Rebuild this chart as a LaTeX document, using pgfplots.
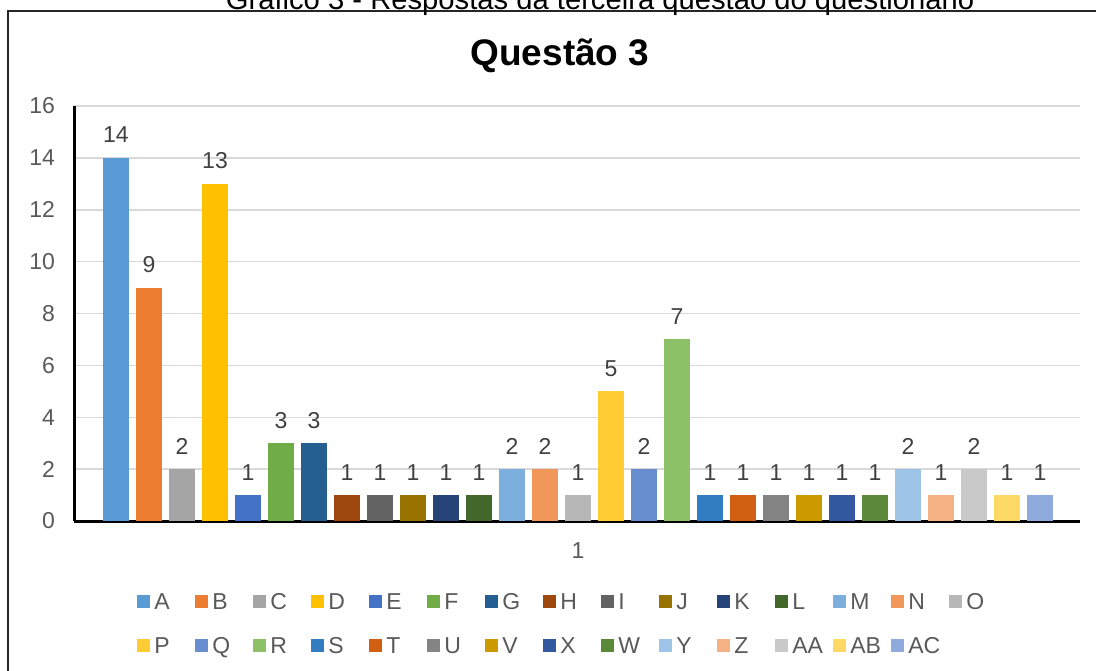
\documentclass[border=0pt]{standalone}
\usepackage{fontspec}
\setmainfont{Liberation Sans}
\usepackage{pgfplots}
\pgfplotsset{compat=1.18}
\definecolor{cA}{HTML}{5B9BD5}\definecolor{cB}{HTML}{ED7D31}\definecolor{cC}{HTML}{A5A5A5}
\definecolor{cD}{HTML}{FFC000}\definecolor{cE}{HTML}{4472C4}\definecolor{cF}{HTML}{70AD47}
\definecolor{cG}{HTML}{255E91}\definecolor{cH}{HTML}{9E480E}\definecolor{cI}{HTML}{636363}
\definecolor{cJ}{HTML}{997300}\definecolor{cK}{HTML}{264478}\definecolor{cL}{HTML}{43682B}
\definecolor{cM}{HTML}{7CAFDD}\definecolor{cN}{HTML}{F1975A}\definecolor{cO}{HTML}{B7B7B7}
\definecolor{cP}{HTML}{FFCD33}\definecolor{cQ}{HTML}{698ED0}\definecolor{cR}{HTML}{8CC168}
\definecolor{cS}{HTML}{327DC2}\definecolor{cT}{HTML}{D26012}\definecolor{cU}{HTML}{848484}
\definecolor{cV}{HTML}{CC9A00}\definecolor{cX}{HTML}{335AA1}\definecolor{cW}{HTML}{5A8A39}
\definecolor{cY}{HTML}{9DC3E6}\definecolor{cZ}{HTML}{F4B183}\definecolor{cAA}{HTML}{C9C9C9}
\definecolor{cAB}{HTML}{FFD966}\definecolor{cAC}{HTML}{8FAADC}
\definecolor{txtgray}{HTML}{595959}\definecolor{lblgray}{HTML}{404040}\definecolor{gridgray}{HTML}{D9D9D9}
\newcommand{\qbar}[4]{\addplot[fill=#1, draw=none] coordinates {(#2,#3)};
  \addlegendentry{\strut\makebox[22.5pt][l]{\hspace{2pt}#4}}}
\begin{document}
\begin{tikzpicture}
\useasboundingbox (0,0) rectangle (548pt,335pt);
\clip (0,0) rectangle (548pt,335pt);
\draw[line width=0.75pt, black!85] (4pt,-20pt) rectangle (570pt,329.5pt);
\node[anchor=base, font=\fontsize{14.6}{17}\selectfont, inner sep=0pt] at (300pt,330pt)
  {Gráfico 3 - Respostas da terceira questão do questionário};
\node[anchor=base, font=\fontsize{18.5}{22}\selectfont\bfseries, inner sep=0pt] at (280pt,302pt) {Questão 3};
\begin{axis}[
  at={(37pt,74.5pt)}, anchor=south west,
  scale only axis, width=503pt, height=207.5pt,
  ybar, bar shift=0pt, bar width=13pt,
  xmin=-0.2727, xmax=30.212, ymin=0, ymax=16,
  ytick={0,2,...,16}, xtick={15}, xticklabels={1},
  major tick length=0pt,
  axis x line*=bottom, axis y line*=left,
  axis line style={line width=1.5pt, black, -},
  ymajorgrids, grid style={line width=0.75pt, gridgray},
  tick label style={font=\fontsize{11.5}{13.8}\selectfont, text=txtgray},
  /pgf/number format/assume math mode=true,
  yticklabel style={xshift=-6pt},
  xticklabel style={yshift=-7.5pt},
  nodes near coords,
  every node near coord/.append style={anchor=base, yshift=7.5pt, font=\fontsize{11.5}{13.8}\selectfont, text=lblgray},
  legend image code/.code={\fill[#1] (0pt,0.5pt) rectangle (6.5pt,7pt);},
  legend columns=15,
  legend style={at={(0.0626,-0.1655)}, anchor=north west, draw=none, fill=none, inner sep=0pt,
    column sep=0pt, row sep=10.7pt, cells={anchor=base}, nodes={inner sep=0pt},
    font=\fontsize{11.5}{13.8}\selectfont, text=txtgray},
]
\qbar{cA}{1}{14}{A}
\qbar{cB}{2}{9}{B}
\qbar{cC}{3}{2}{C}
\qbar{cD}{4}{13}{D}
\qbar{cE}{5}{1}{E}
\qbar{cF}{6}{3}{F}
\qbar{cG}{7}{3}{G}
\qbar{cH}{8}{1}{H}
\qbar{cI}{9}{1}{I}
\qbar{cJ}{10}{1}{J}
\qbar{cK}{11}{1}{K}
\qbar{cL}{12}{1}{L}
\qbar{cM}{13}{2}{M}
\qbar{cN}{14}{2}{N}
\qbar{cO}{15}{1}{O}
\qbar{cP}{16}{5}{P}
\qbar{cQ}{17}{2}{Q}
\qbar{cR}{18}{7}{R}
\qbar{cS}{19}{1}{S}
\qbar{cT}{20}{1}{T}
\qbar{cU}{21}{1}{U}
\qbar{cV}{22}{1}{V}
\qbar{cX}{23}{1}{X}
\qbar{cW}{24}{1}{W}
\qbar{cY}{25}{2}{Y}
\qbar{cZ}{26}{1}{Z}
\qbar{cAA}{27}{2}{AA}
\qbar{cAB}{28}{1}{AB}
\qbar{cAC}{29}{1}{AC}
\end{axis}
\end{tikzpicture}
\end{document}
